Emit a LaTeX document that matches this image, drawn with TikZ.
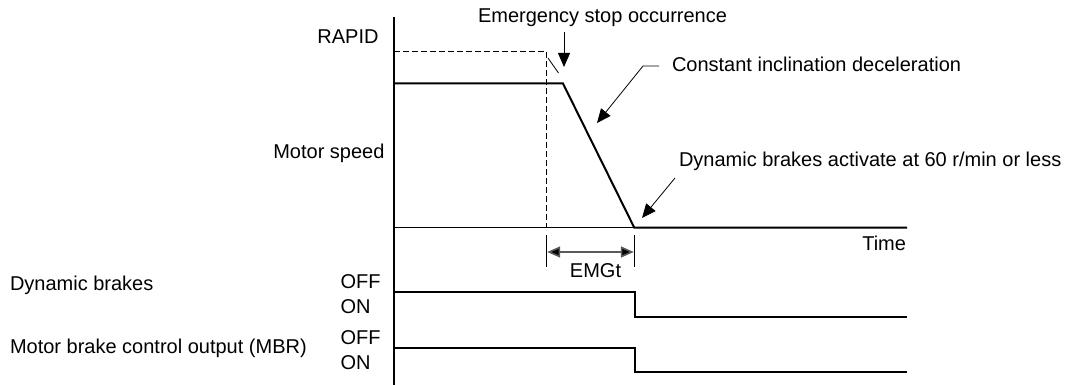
\documentclass[tikz,border=0pt]{standalone}
\usepackage{fontspec}
\setmainfont{Liberation Sans}
\usetikzlibrary{arrows.meta}
\begin{document}
\begin{tikzpicture}[x=1pt,y=-1pt,
  lbl/.style={font=\fontsize{20}{24}\selectfont, inner sep=0pt, outer sep=0pt},
  axisline/.style={line width=1.3pt},
  speedline/.style={line width=2pt, line join=miter},
  sigline/.style={line width=2pt},
  dashline/.style={line width=1.5pt, dash pattern=on 6pt off 3pt},
  thinline/.style={line width=0.8pt},
  bigarrow/.style={thinline, -{Triangle[length=14pt,width=12pt]}},
  dimarrow/.style={line width=1.6pt, draw=black!65, {Triangle[length=13pt,width=11pt,fill=black]}-{Triangle[length=13pt,width=11pt,fill=black]}}]
\useasboundingbox (0,0) rectangle (1079,385);

% axes
\coordinate (ytop) at (394,17);
\coordinate (ybot) at (394,385);
\coordinate (t0) at (394,227.7);
\coordinate (tend) at (907,227.7);
\draw[axisline] (ytop) -- (ybot);
\draw[axisline] (t0) -- (tend);

% speed profile
\coordinate (r0) at (394,51.7);
\coordinate (r1) at (546.7,51.7);
\coordinate (r2) at (546.7,227.7);
\draw[dashline] (r0) -- (r1) -- (r2);
\coordinate (s0) at (394,83.5);
\coordinate (s1) at (563,83.5);
\coordinate (s2) at (634.3,227.7);
\draw[speedline] (s0) -- (s1) -- (s2) -- (tend);
\coordinate (k0) at (548,58);
\coordinate (k1) at (558.5,73);
\draw[thinline] (k0) -- (k1);

% labels on speed chart
\node[lbl, anchor=base east] (rapid) at (378.5,43.5) {RAPID};
\node[lbl, anchor=base east] (mspeed) at (384.5,158.3) {Motor speed};
\node[lbl, anchor=base east] (time) at (906,250) {Time};
\node[lbl, anchor=base west] (emg) at (478,22.7) {Emergency stop occurrence};
\node[lbl, anchor=base west] (cid) at (672,71.7) {Constant inclination deceleration};
\node[lbl, anchor=base west] (dba) at (679,167) {Dynamic brakes activate at 60 r/min or less};

% annotation arrows
\coordinate (e0) at (564,32);
\coordinate (e1) at (564,67);
\draw[bigarrow] (e0) -- (e1);
\coordinate (c0) at (659,66);
\coordinate (c1) at (643,66);
\coordinate (c2) at (597,123);
\draw[bigarrow] (c0) -- (c1) -- (c2);
\coordinate (d0) at (675,178);
\coordinate (d1) at (642,218);
\draw[bigarrow] (d0) -- (d1);

% EMGt dimension
\coordinate (m0a) at (546.7,235);
\coordinate (m0b) at (546.7,267);
\coordinate (m1a) at (634.3,235);
\coordinate (m1b) at (634.3,267);
\draw[thinline] (m0a) -- (m0b);
\draw[thinline] (m1a) -- (m1b);
\coordinate (ma) at (547.2,252);
\coordinate (mb) at (633.8,252);
\draw[dimarrow] (ma) -- (mb);
\node[lbl, anchor=base] (emgt) at (595.5,277.3) {EMGt};

% signals
\node[lbl, anchor=base west] (dbl) at (10,290.5) {Dynamic brakes};
\node[lbl, anchor=base west] (mbrl) at (10,353.3) {Motor brake control output (MBR)};
\node[lbl, anchor=base west] (off1) at (340.5,288.5) {OFF};
\node[lbl, anchor=base west] (on1) at (340.5,313.3) {ON};
\node[lbl, anchor=base west] (off2) at (340.5,344) {OFF};
\node[lbl, anchor=base west] (on2) at (340.5,369) {ON};

\coordinate (a0) at (394,292);
\coordinate (a1) at (635,292);
\coordinate (a2) at (635,316.5);
\coordinate (a3) at (907,316.5);
\draw[sigline] (a0) -- (a1) -- (a2) -- (a3);
\coordinate (b0) at (394,348);
\coordinate (b1) at (635,348);
\coordinate (b2) at (635,372);
\coordinate (b3) at (907,372);
\draw[sigline] (b0) -- (b1) -- (b2) -- (b3);
\end{tikzpicture}
\end{document}
